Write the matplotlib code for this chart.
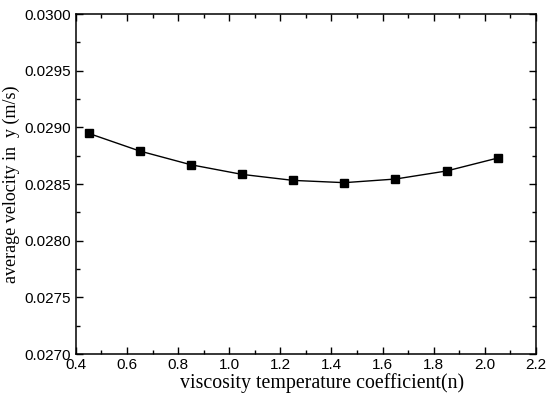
import numpy as np
import matplotlib.pyplot as plt
from matplotlib.ticker import MultipleLocator, FormatStrFormatter

# 数据
n_vals = [0.45, 0.65, 0.85, 1.05, 1.25, 1.45, 1.65, 1.85, 2.05]
velocity = [0.028947, 0.028791, 0.028670, 0.028585, 0.028532,
            0.028512, 0.028544, 0.028615, 0.028729]

fig = plt.figure(figsize=(5.5, 3.96), dpi=100)
ax = fig.add_axes([0.138, 0.106, 0.8365, 0.8586])

ax.plot(n_vals, velocity, color='black', lw=1.0, marker='s', ms=5.5,
        markerfacecolor='black', markeredgecolor='black')

ax.set_xlim(0.4, 2.2)
ax.set_ylim(0.027, 0.030)
ax.xaxis.set_major_locator(MultipleLocator(0.2))
ax.xaxis.set_minor_locator(MultipleLocator(0.1))
ax.yaxis.set_major_locator(MultipleLocator(0.0005))
ax.yaxis.set_minor_locator(MultipleLocator(0.00025))
ax.xaxis.set_major_formatter(FormatStrFormatter('%.1f'))
ax.yaxis.set_major_formatter(FormatStrFormatter('%.4f'))

ax.tick_params(which='both', direction='in', top=True, right=True,
               labeltop=False, labelright=False)
ax.tick_params(which='major', length=5, width=1)
ax.tick_params(which='minor', length=3, width=1)
for lab in ax.get_xticklabels() + ax.get_yticklabels():
    lab.set_family('Liberation Sans')
    lab.set_fontsize(11)
ax.tick_params(axis='x', pad=3)
for s in ax.spines.values():
    s.set_linewidth(1.1)

ax.set_xlabel('viscosity temperature coefficient(n)', family='Liberation Serif',
              fontsize=14.3)
ax.xaxis.set_label_coords(0.535, -0.055)
ax.set_ylabel('average velocity in  y (m/s)', family='Liberation Serif',
              fontsize=13, labelpad=3)

fig.savefig('out.png', dpi=100)
